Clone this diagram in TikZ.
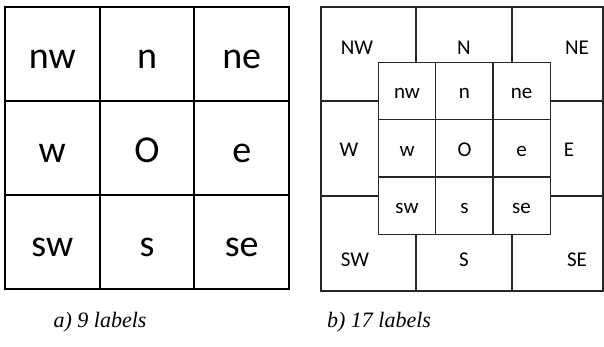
\documentclass[tikz,border=0pt]{standalone}
\usepackage{fontspec}
\setmainfont{Carlito}
\newfontfamily\capfont{Liberation Serif Italic}
\begin{document}
\begin{tikzpicture}[x=1pt,y=-1pt,
  bigcell/.style={draw=black,line width=2pt,minimum width=94.7pt,minimum height=94pt,inner sep=0pt,text height=28.5pt,text depth=0pt,font=\fontsize{38}{40}\selectfont},
  smallcell/.style={draw=black!85,line width=1.2pt,minimum width=57.3pt,minimum height=57.3pt,inner sep=0pt,text height=16pt,text depth=0pt,font=\fontsize{21}{23}\selectfont},
  outerlab/.style={inner sep=0pt,font=\fontsize{21}{23}\selectfont},
  capt/.style={inner sep=0pt,font=\capfont\fontsize{22}{24}\selectfont},
  thin/.style={draw=black!85,line width=1.2pt}]
\useasboundingbox[fill=white] (0,0) rectangle (604,347);
% a) 9 labels
\node[bigcell] (a-nw) at (52.3,54) {nw};
\node[bigcell] (a-n)  at (147,54) {n};
\node[bigcell] (a-ne) at (241.7,54) {ne};
\node[bigcell] (a-w)  at (52.3,148) {w};
\node[bigcell] (a-o)  at (147,148) {O};
\node[bigcell] (a-e)  at (241.7,148) {e};
\node[bigcell] (a-sw) at (52.3,242) {sw};
\node[bigcell] (a-s)  at (147,242) {s};
\node[bigcell] (a-se) at (241.7,242) {se};
% b) 17 labels: outer frame
\draw[thin] (321,7) rectangle (603,291);
\draw[thin] (416,7) -- (416,62);
\draw[thin] (512,7) -- (512,62);
\draw[thin] (416,234) -- (416,291);
\draw[thin] (512,234) -- (512,291);
\draw[thin] (321,101) -- (378,101);
\draw[thin] (321,196) -- (378,196);
\draw[thin] (550,101) -- (603,101);
\draw[thin] (550,196) -- (603,196);
% inner grid
\node[smallcell] (b-nw) at (407,91) {nw};
\node[smallcell] (b-n)  at (464.5,91) {n};
\node[smallcell] (b-ne) at (521.5,91) {ne};
\node[smallcell] (b-w)  at (407,148.5) {w};
\node[smallcell] (b-o)  at (464.5,148.5) {O};
\node[smallcell] (b-e)  at (521.5,148.5) {e};
\node[smallcell] (b-sw) at (407,205.5) {sw};
\node[smallcell] (b-s)  at (464.5,205.5) {s};
\node[smallcell] (b-se) at (521.5,205.5) {se};
% outer labels
\node[outerlab] (B-NW) at (357,48) {NW};
\node[outerlab] (B-N)  at (464,48) {N};
\node[outerlab] (B-NE) at (577,48) {NE};
\node[outerlab] (B-W)  at (349,150) {W};
\node[outerlab] (B-E)  at (569,150) {E};
\node[outerlab] (B-SW) at (355,260) {SW};
\node[outerlab] (B-S)  at (464,260) {S};
\node[outerlab] (B-SE) at (577,260) {SE};
% captions
\node[capt] (capa) at (100,322) {a) 9 labels};
\node[capt] (capb) at (379,322) {b) 17 labels};
\end{tikzpicture}
\end{document}
